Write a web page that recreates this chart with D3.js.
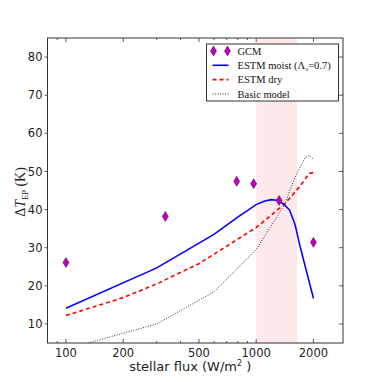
<!DOCTYPE html>
<html>
<head>
<meta charset="utf-8">
<script src="https://cdn.jsdelivr.net/npm/d3@7"></script>
<style>
  body { margin: 0; background: #fff; }
  svg text { font-family: "DejaVu Sans", sans-serif; }
  .leg text { font-family: "Liberation Serif", "DejaVu Serif", serif; font-size: 10.5px; }
</style>
</head>
<body>
<div id="chart"></div>
<script>
// data
let gcmFlux = [100, 333, 790, 970, 1320, 2000],
    gcmDT = [26.1, 38.2, 47.4, 46.8, 42.4, 31.4];

let moistFlux = [100, 300, 600, 800, 1000, 1100, 1200, 1300, 1400, 1500, 1600, 1700, 2000],
    moistDT = [14.1, 24.7, 33.5, 38.0, 41.3, 42.2, 42.6, 42.4, 41.4, 39.8, 36.1, 30.4, 16.7];

let dryFlux = [100, 200, 300, 500, 1000, 1400, 1700, 1900, 2000],
    dryDT = [12.2, 16.9, 20.5, 25.8, 35.3, 41.3, 46.1, 49.5, 49.7];

let basicFlux = [100, 300, 600, 1000, 1400, 1600, 1800, 1900, 2000],
    basicDT = [3.4, 10.0, 18.4, 29.5, 41.0, 48.5, 53.5, 54.2, 53.2];

let bandFlux = [1000, 1640],
    xTickVals = [100, 200, 500, 1000, 2000],
    yTickVals = [10, 20, 30, 40, 50, 60, 70, 80];

let W = 382, H = 382,
    margin = { top: 38, right: 39, bottom: 39, left: 47.5 },
    width = W - margin.left - margin.right,
    height = H - margin.top - margin.bottom;

let svg = d3.select("#chart").append("svg").attr("width", W).attr("height", H),
    g = svg.append("g").attr("transform", `translate(${margin.left},${margin.top})`);

let x = d3.scaleLog().domain([80, 2860]).range([0, width]),
    y = d3.scaleLinear().domain([5, 85]).range([height, 0]);

g.append("clipPath").attr("id", "clip")
  .append("rect").attr("width", width).attr("height", height);

let plot = g.append("g").attr("clip-path", "url(#clip)");

// shaded band
plot.append("rect")
  .attr("x", x(bandFlux[0]))
  .attr("width", x(bandFlux[1]) - x(bandFlux[0]))
  .attr("y", 0).attr("height", height)
  .attr("fill", "#fde9e9");

let line = d3.line().x(d => x(d[0])).y(d => y(d[1]));
let zip = (a, b) => a.map((v, i) => [v, b[i]]);

plot.append("path").datum(zip(basicFlux, basicDT))
  .attr("fill", "none").attr("stroke", "#333").attr("stroke-width", 1)
  .attr("stroke-dasharray", "1,1.5").attr("d", line);

plot.append("path").datum(zip(dryFlux, dryDT))
  .attr("fill", "none").attr("stroke", "#ff0000").attr("stroke-width", 1.6)
  .attr("stroke-dasharray", "4,3").attr("d", line);

plot.append("path").datum(zip(moistFlux, moistDT))
  .attr("fill", "none").attr("stroke", "#0000ff").attr("stroke-width", 1.6)
  .attr("d", line);

let diamond = "M0,-5L3,0L0,5L-3,0Z";

plot.selectAll(".gcm").data(zip(gcmFlux, gcmDT)).enter().append("path")
  .attr("class", "gcm")
  .attr("transform", d => `translate(${x(d[0])},${y(d[1])})`)
  .attr("d", diamond)
  .attr("fill", "#bf00bf").attr("stroke", "#400040").attr("stroke-width", 0.5);

// frame
g.append("rect").attr("width", width).attr("height", height)
  .attr("fill", "none").attr("stroke", "#333").attr("stroke-width", 1);

// x ticks (major + minor, inward top and bottom)
let minor = [80, 90];
[100, 1000].forEach(dec => { for (let k = 1; k < 10; k++) { let v = dec * k; if (v <= 2860) minor.push(v); } });

let xt = g.append("g");
minor.forEach(v => {
  let len = xTickVals.includes(v) ? 4 : 2;
  xt.append("line").attr("x1", x(v)).attr("x2", x(v)).attr("y1", height).attr("y2", height - len)
    .attr("stroke", "#333").attr("stroke-width", 0.8);
  xt.append("line").attr("x1", x(v)).attr("x2", x(v)).attr("y1", 0).attr("y2", len)
    .attr("stroke", "#333").attr("stroke-width", 0.8);
});
xTickVals.forEach(v => {
  xt.append("text").attr("x", x(v)).attr("y", height + 14)
    .attr("text-anchor", "middle").attr("font-size", 11.5).attr("fill", "#222").text(v);
});

// y ticks
let yt = g.append("g");
yTickVals.forEach(v => {
  yt.append("line").attr("x1", -3).attr("x2", 0).attr("y1", y(v)).attr("y2", y(v))
    .attr("stroke", "#333").attr("stroke-width", 0.8);
  yt.append("line").attr("x1", width).attr("x2", width - 4).attr("y1", y(v)).attr("y2", y(v))
    .attr("stroke", "#333").attr("stroke-width", 0.8);
  yt.append("text").attr("x", -5).attr("y", y(v)).attr("dy", "0.36em")
    .attr("text-anchor", "end").attr("font-size", 11.5).attr("fill", "#222").text(v);
});

// axis labels
svg.append("text").attr("x", margin.left + width / 2 - 5).attr("y", 371)
  .attr("text-anchor", "middle").attr("font-size", 13).attr("fill", "#222")
  .html('stellar flux (W/m<tspan dy="-5" font-size="8">2</tspan><tspan dy="5"> )</tspan>');

svg.append("text")
  .attr("transform", "translate(25,192) rotate(-90)")
  .attr("text-anchor", "middle")
  .style("font-family", "'Liberation Serif', 'DejaVu Serif', serif")
  .attr("font-size", 14).attr("fill", "#222")
  .html('Δ<tspan font-style="italic">T</tspan><tspan font-size="8.5" dy="3">EP</tspan><tspan dy="-3"> (K)</tspan>');

// legend
let leg = svg.append("g").attr("class", "leg").attr("transform", "translate(206.5,44)");
leg.append("rect").attr("width", 132).attr("height", 57)
  .attr("fill", "#fff").attr("stroke", "#333").attr("stroke-width", 1);

let rows = [
  { label: "GCM", type: "gcm" },
  { label: "ESTM moist (Λ", type: "moist" },
  { label: "ESTM dry", type: "dry" },
  { label: "Basic model", type: "basic" }
];
rows.forEach((r, i) => {
  let ry = 7 + i * 14.3, row = leg.append("g").attr("transform", `translate(0,${ry})`);
  if (r.type === "gcm") {
    [7, 21].forEach(cx => row.append("path").attr("transform", `translate(${cx},0)`)
      .attr("d", diamond).attr("fill", "#bf00bf").attr("stroke", "#400040").attr("stroke-width", 0.5));
  } else {
    let st = { moist: ["#0000ff", 1.6, null], dry: ["#ff0000", 1.6, "4,3"], basic: ["#333", 1, "1,1.5"] }[r.type];
    row.append("line").attr("x1", 6).attr("x2", 22).attr("y1", 0).attr("y2", 0)
      .attr("stroke", st[0]).attr("stroke-width", st[1]).attr("stroke-dasharray", st[2]);
  }
  let t = row.append("text").attr("x", 31).attr("y", 0).attr("dy", "0.35em").attr("fill", "#111").text(r.label);
  if (r.type === "moist") {
    t.append("tspan").attr("font-size", 6).attr("dy", 2).text("o");
    t.append("tspan").attr("dy", -2).text("=0.7)");
  }
});
</script>
</body>
</html>
